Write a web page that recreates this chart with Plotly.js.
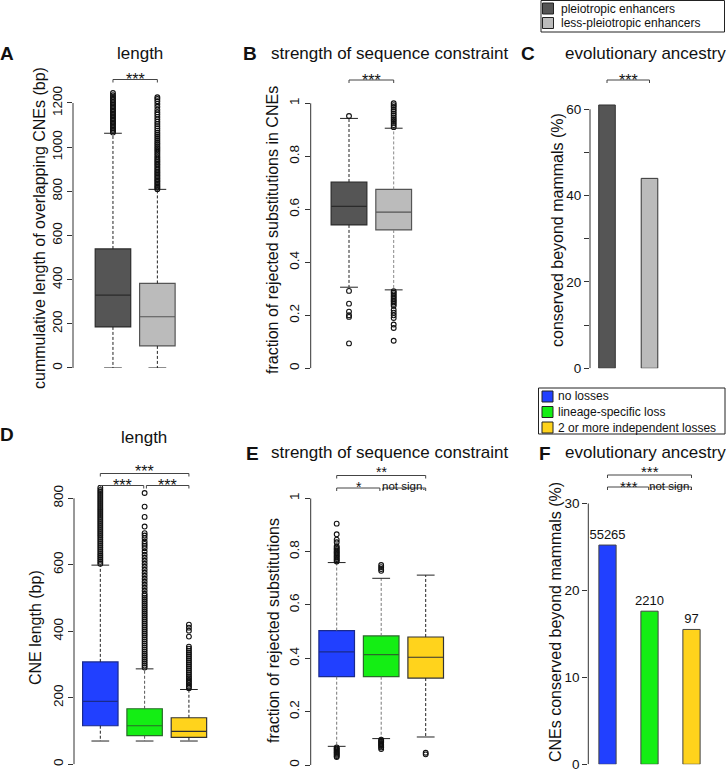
<!DOCTYPE html>
<html>
<head>
<meta charset="utf-8">
<script src="https://cdn.plot.ly/plotly-3.0.1.min.js"></script>
<style>
  html, body { margin: 0; padding: 0; background: #fff; }
  #plot { width: 726px; height: 773px; }
</style>
</head>
<body>
<div id="plot"></div>
<script>
// ---- data ----
const groupsTop = ["pleiotropic enhancers", "less-pleiotropic enhancers"];
const groupsBottom = ["no losses", "lineage-specific loss", "2 or more independent losses"];

// A: cumulative length of overlapping CNEs (bp)
const lenQ1 = [186, 100];
const lenMed = [330, 232];
const lenQ3 = [539, 383];
const lenLo = [0, 0];
const lenHi = [1063, 809];
const lenOut1 = [1066, 1073, 1079, 1086, 1092, 1099, 1106, 1112, 1119, 1125, 1132, 1139, 1146, 1152, 1159, 1165, 1172, 1179, 1185, 1192, 1199, 1205, 1212, 1219, 1227, 1235, 1245];
const lenOut2 = [810, 816, 822, 829, 835, 842, 848, 855, 862, 868, 875, 882, 889, 896, 903, 910, 918, 925, 933, 940, 948, 955, 963, 971, 979, 987, 995, 1003, 1012, 1020, 1029, 1038, 1047, 1056, 1065, 1075, 1085, 1095, 1105, 1115, 1126, 1137, 1148, 1158, 1170, 1183, 1196, 1208, 1218, 1226];

// B: fraction of rejected substitutions in CNEs
const conQ1 = [0.541, 0.522];
const conMed = [0.611, 0.589];
const conQ3 = [0.703, 0.675];
const conLo = [0.306, 0.296];
const conHi = [0.943, 0.906];
const conOut1 = [0.952, 0.292, 0.244, 0.214, 0.2, 0.194, 0.094];
const conOut2 = [0.91, 0.918, 0.926, 0.933, 0.94, 0.947, 0.955, 0.962, 0.97, 0.978, 0.986, 0.993, 1.0,
                 0.291, 0.285, 0.279, 0.273, 0.267, 0.261, 0.255, 0.249, 0.243, 0.236, 0.22, 0.21, 0.2, 0.19, 0.165, 0.152, 0.104];

// C: conserved beyond mammals (%)
const ancTop = [61.0, 44.0];

// D: CNE length (bp)
const cneQ1 = [116, 86, 81];
const cneMed = [189, 116, 99];
const cneQ3 = [308, 167, 140];
const cneLo = [70, 70, 70];
const cneHi = [599, 287, 225];
const cneOut1 = [603, 609, 615, 621, 627, 633, 639, 645, 651, 657, 663, 669, 675, 681, 687, 693, 699, 705, 711, 717, 723, 729, 735, 741, 747, 753, 759, 765, 771, 777, 783, 789, 795, 801, 807, 813, 819, 825, 832];
const cneOut2 = [291, 297, 303, 309, 315, 321, 327, 333, 339, 345, 351, 357, 363, 369, 375, 381, 387, 393, 399, 405, 411, 417, 423, 429, 435, 441, 447, 453, 459, 465, 471, 477, 483, 489, 495, 501, 507, 513,
                 522, 531, 540, 549, 558, 567, 576, 585, 594, 603, 612, 621, 630, 640, 650, 657, 663, 670, 680, 688, 695, 715, 744, 775, 816];
const cneOut3 = [229, 234, 239, 244, 249, 254, 259, 264, 270, 276, 282, 288, 294, 300, 306, 312, 318, 324, 330, 336, 342, 348, 354, 384, 402, 411, 420];

// E: fraction of rejected substitutions
const rejQ1 = [0.331, 0.331, 0.326];
const rejMed = [0.424, 0.414, 0.404];
const rejQ3 = [0.504, 0.484, 0.48];
const rejLo = [0.07, 0.099, 0.105];
const rejHi = [0.759, 0.70, 0.712];
const rejOut1 = [0.763, 0.768, 0.772, 0.777, 0.782, 0.786, 0.791, 0.796, 0.8, 0.805, 0.81, 0.815, 0.82, 0.835, 0.845, 0.865, 0.905,
                 0.066, 0.062, 0.058, 0.054, 0.05, 0.046, 0.042, 0.038, 0.034, 0.03];
const rejOut2 = [0.728, 0.735, 0.742, 0.75, 0.095, 0.091, 0.087, 0.083, 0.079, 0.075, 0.071, 0.066, 0.06];
const rejOut3 = [0.046, 0.04];

// F: CNEs conserved beyond mammals (%)
const ancLoss = [25.2, 17.6, 15.5];
const ancLossN = ["55265", "2210", "97"];

// ---- styling ----
const W = 726, H = 773;
const fx = px => px / W;
const fy = py => 1 - py / H;
const FONT = '"Liberation Sans", Arial, Helvetica, sans-serif';

const grayFill = ["#555555", "#bbbbbb"];
const grayLine = ["#2b2b2b", "#555555"];
const colFill = ["#2140ff", "#14ee14", "#ffd31c"];
const colLine = ["#1a2a8c", "#2a6a2a", "#333333"];

let traces = [];
let shapes = [];
let ann = [];

function boxPanel(xa, ya, q1, med, q3, lo, hi, outs, fills, lines, whisk) {
  q1.forEach((v, i) => {
    const c = i + 1;
    traces.push({
      type: "box", xaxis: xa, yaxis: ya, x: [c],
      q1: [q1[i]], median: [med[i]], q3: [q3[i]],
      lowerfence: [q1[i]], upperfence: [q3[i]],
      width: 0.8, whiskerwidth: 0, boxpoints: false,
      fillcolor: fills[i], line: {color: lines[i], width: 1.2},
      showlegend: false, hoverinfo: "skip"
    });
    // dashed whiskers
    traces.push({
      type: "scatter", mode: "lines", xaxis: xa, yaxis: ya,
      x: [c, c, null, c, c], y: [q3[i], hi[i], null, q1[i], lo[i]],
      line: {color: whisk[i], width: 1, dash: "3px,2px"},
      showlegend: false, hoverinfo: "skip"
    });
    // staples
    traces.push({
      type: "scatter", mode: "lines", xaxis: xa, yaxis: ya,
      x: [c - 0.2, c + 0.2, null, c - 0.2, c + 0.2], y: [hi[i], hi[i], null, lo[i], lo[i]],
      line: {color: "#222", width: 1},
      showlegend: false, hoverinfo: "skip"
    });
    traces.push({
      type: "scatter", mode: "markers", xaxis: xa, yaxis: ya,
      x: outs[i].map(() => c), y: outs[i],
      marker: {symbol: "circle-open", size: 4.8, color: "#111", line: {width: 1.1}},
      showlegend: false, hoverinfo: "skip"
    });
  });
}

boxPanel("x", "y", lenQ1, lenMed, lenQ3, lenLo, lenHi, [lenOut1, lenOut2], grayFill, grayLine, ["#222", "#222"]);
boxPanel("x2", "y2", conQ1, conMed, conQ3, conLo, conHi, [conOut1, conOut2], grayFill, grayLine, ["#222", "#888"]);
boxPanel("x4", "y4", cneQ1, cneMed, cneQ3, cneLo, cneHi, [cneOut1, cneOut2, cneOut3], colFill, colLine, ["#222", "#555", "#222"]);
boxPanel("x5", "y5", rejQ1, rejMed, rejQ3, rejLo, rejHi, [rejOut1, rejOut2, rejOut3], colFill, colLine, ["#777", "#777", "#222"]);

traces.push({
  type: "bar", xaxis: "x3", yaxis: "y3", x: [1, 2], y: ancTop, width: 0.39,
  marker: {color: grayFill, line: {color: "#333", width: 1}},
  showlegend: false, hoverinfo: "skip"
});
traces.push({
  type: "bar", xaxis: "x6", yaxis: "y6", x: [1, 2, 3], y: ancLoss, width: 0.41,
  marker: {color: colFill, line: {color: "#444", width: 1}},
  text: ancLossN, textposition: "outside", constraintext: "none",
  textfont: {size: 13, color: "#111", family: FONT},
  cliponaxis: false, showlegend: false, hoverinfo: "skip"
});

function xAx(l, r, range, ya) {
  return {domain: [fx(l), fx(r)], range: range, visible: false, fixedrange: true, anchor: ya};
}
// zeroPx / maxPx: pixel rows of 0 and of the last tick; rangeMax lets marks run past the last tick
function yAx(xa, zeroPx, maxPx, tickvals, ticktext, rangeMax, angle) {
  const tickMax = tickvals[tickvals.length - 1];
  const ppu = (zeroPx - maxPx) / tickMax;
  const topPx = zeroPx - rangeMax * ppu;
  shapes.push({type: "line", xref: xa + " domain", yref: xa.replace("x", "y"),
               x0: 0, x1: 0, y0: 0, y1: tickMax, line: {color: "#333", width: 1}});
  return {
    domain: [fy(zeroPx), fy(topPx)], range: [0, rangeMax], tickvals: tickvals, ticktext: ticktext,
    tickangle: angle, showline: false, anchor: xa,
    ticks: "outside", ticklen: 5, tickcolor: "#333", tickwidth: 1,
    showgrid: false, zeroline: false, fixedrange: true,
    tickfont: {size: 13.5, color: "#111", family: FONT}
  };
}

const tLen = [0, 200, 400, 600, 800, 1000, 1200];
const tFrac = [0, 0.2, 0.4, 0.6, 0.8, 1];
const tFracLab = ["0", "0.2", "0.4", "0.6", "0.8", "1"];
const tPct = [0, 10, 20, 30, 40, 50, 60];
const tPctLab = ["0", "", "20", "", "40", "", "60"];
const tCne = [0, 200, 400, 600, 800];
const tLoss = [0, 10, 20, 30];

function bracket(xa, x0, x1, ypx) {
  shapes.push({
    type: "path", xref: xa, yref: "paper",
    path: `M ${x0},${fy(ypx + 3)} L ${x0},${fy(ypx)} L ${x1},${fy(ypx)} L ${x1},${fy(ypx + 3)}`,
    line: {color: "#444", width: 1}
  });
}
function label(xa, x, ypx, text, size) {
  ann.push({xref: xa, yref: "paper", x: x, y: fy(ypx), text: text, showarrow: false, borderpad: 0,
            xanchor: "center", yanchor: "middle", font: {size: size, color: "#111", family: FONT}});
}

// significance brackets
bracket("x", 1, 2, 79.5);  label("x", 1.5, 79.5, "***", 16);
bracket("x2", 1, 2, 80);   label("x2", 1.5, 80, "***", 16);
bracket("x3", 1, 2, 80);   label("x3", 1.5, 80, "***", 16);
bracket("x4", 1, 3, 473.5); label("x4", 2, 471, "***", 16);
bracket("x4", 1, 1.98, 485.5); label("x4", 1.5, 485.5, "***", 16);
bracket("x4", 2.04, 3, 485.5); label("x4", 2.52, 485.5, "***", 16);
bracket("x5", 1, 3, 475.5); label("x5", 2, 471.5, "**", 14);
bracket("x5", 1, 1.97, 488); label("x5", 1.5, 487, "*", 14);
bracket("x5", 2.04, 3, 488); label("x5", 2.5, 486, "not sign.", 11.5);
bracket("x6", 1, 3, 475); label("x6", 2, 471, "***", 15);
bracket("x6", 1, 1.98, 487); label("x6", 1.5, 487, "***", 15);
bracket("x6", 2.04, 3, 487); label("x6", 2.5, 486, "not sign.", 11.5);

// titles, letters, y titles
function txt(xpx, ypx, text, size, opts) {
  ann.push(Object.assign({xref: "paper", yref: "paper", x: fx(xpx), y: fy(ypx), text: text,
    showarrow: false, xanchor: "center", yanchor: "middle",
    font: {size: size, color: "#111", family: FONT}}, opts || {}));
}
const panelTitles = ["length", "strength of sequence constraint", "evolutionary ancestry",
                     "length", "strength of sequence constraint", "evolutionary ancestry"];
const titlePos = [[139.5, 53], [389.5, 53], [645.5, 53], [144, 437], [389.5, 452.5], [645.5, 452.5]];
panelTitles.forEach((t, i) => txt(titlePos[i][0], titlePos[i][1], t, 17));

const letters = ["A", "B", "C", "D", "E", "F"];
const letterPos = [[7, 53], [250, 53], [528, 53], [7, 435], [252, 453], [545, 453]];
letters.forEach((t, i) => txt(letterPos[i][0], letterPos[i][1], "<b>" + t + "</b>", 19));

const yTitles = ["cummulative length of overlapping CNEs (bp)", "fraction of rejected substitutions in CNEs",
                 "conserved beyond mammals (%)", "CNE length (bp)", "fraction of rejected substitutions",
                 "CNEs conserved beyond mammals (%)"];
const yTitlePos = [[40, 228], [273, 230], [558, 230], [35, 628], [273, 631], [555, 622]];
yTitles.forEach((t, i) => txt(yTitlePos[i][0], yTitlePos[i][1], t, 16, {textangle: -90}));

// legends
function legendBox(x0, x1, y0, y1, labels, fills, rowY, sw) {
  shapes.push({type: "rect", xref: "paper", yref: "paper", x0: fx(x0), x1: fx(x1), y0: fy(y1), y1: fy(y0),
               line: {color: "#222", width: 1}, fillcolor: "#fff"});
  labels.forEach((l, i) => {
    shapes.push({type: "rect", xref: "paper", yref: "paper",
                 x0: fx(sw[0]), x1: fx(sw[0] + 11), y0: fy(rowY[i] + 5.5), y1: fy(rowY[i] - 5.5),
                 line: {color: "#222", width: 1}, fillcolor: fills[i]});
    txt(sw[1], rowY[i], l, 12, {xanchor: "left"});
  });
}
legendBox(541, 724.5, 0.5, 32, groupsTop, grayFill, [8.5, 23], [542.5, 559]);
legendBox(538.5, 725, 388, 434, groupsBottom, colFill, [396.5, 412, 427.5], [542, 556]);

const layout = {
  width: W, height: H, margin: {l: 0, r: 0, t: 0, b: 0},
  paper_bgcolor: "#fff", plot_bgcolor: "rgba(0,0,0,0)",
  font: {family: FONT, color: "#111"},
  showlegend: false,
  xaxis: xAx(73, 184, [0.1, 2.6], "y"),
  yaxis: yAx("x", 368, 103, tLen, tLen.map(String), 1265, -90),
  xaxis2: xAx(310.7, 420.5, [0.143, 2.6], "y2"),
  yaxis2: yAx("x2", 368.3, 103.3, tFrac, tFracLab, 1.02, -90),
  xaxis3: xAx(590, 675, [0.6, 2.6], "y3"),
  yaxis3: yAx("x3", 368.3, 109.3, tPct, tPctLab, 62, 0),
  xaxis4: xAx(74, 215.5, [0.406, 3.6], "y4"),
  yaxis4: yAx("x4", 764.3, 498.3, tCne, tCne.map(String), 840, -90),
  xaxis5: xAx(310.7, 452.4, [0.416, 3.6], "y5"),
  yaxis5: yAx("x5", 765, 498.3, tFrac, tFracLab, 1.0, -90),
  xaxis6: xAx(588.3, 712.5, [0.543, 3.5], "y6"),
  yaxis6: yAx("x6", 764.3, 503.3, tLoss, tLoss.map(String), 30, 0),
  shapes: shapes,
  annotations: ann
};

Plotly.newPlot("plot", traces, layout, {staticPlot: true, displayModeBar: false});
</script>
</body>
</html>
